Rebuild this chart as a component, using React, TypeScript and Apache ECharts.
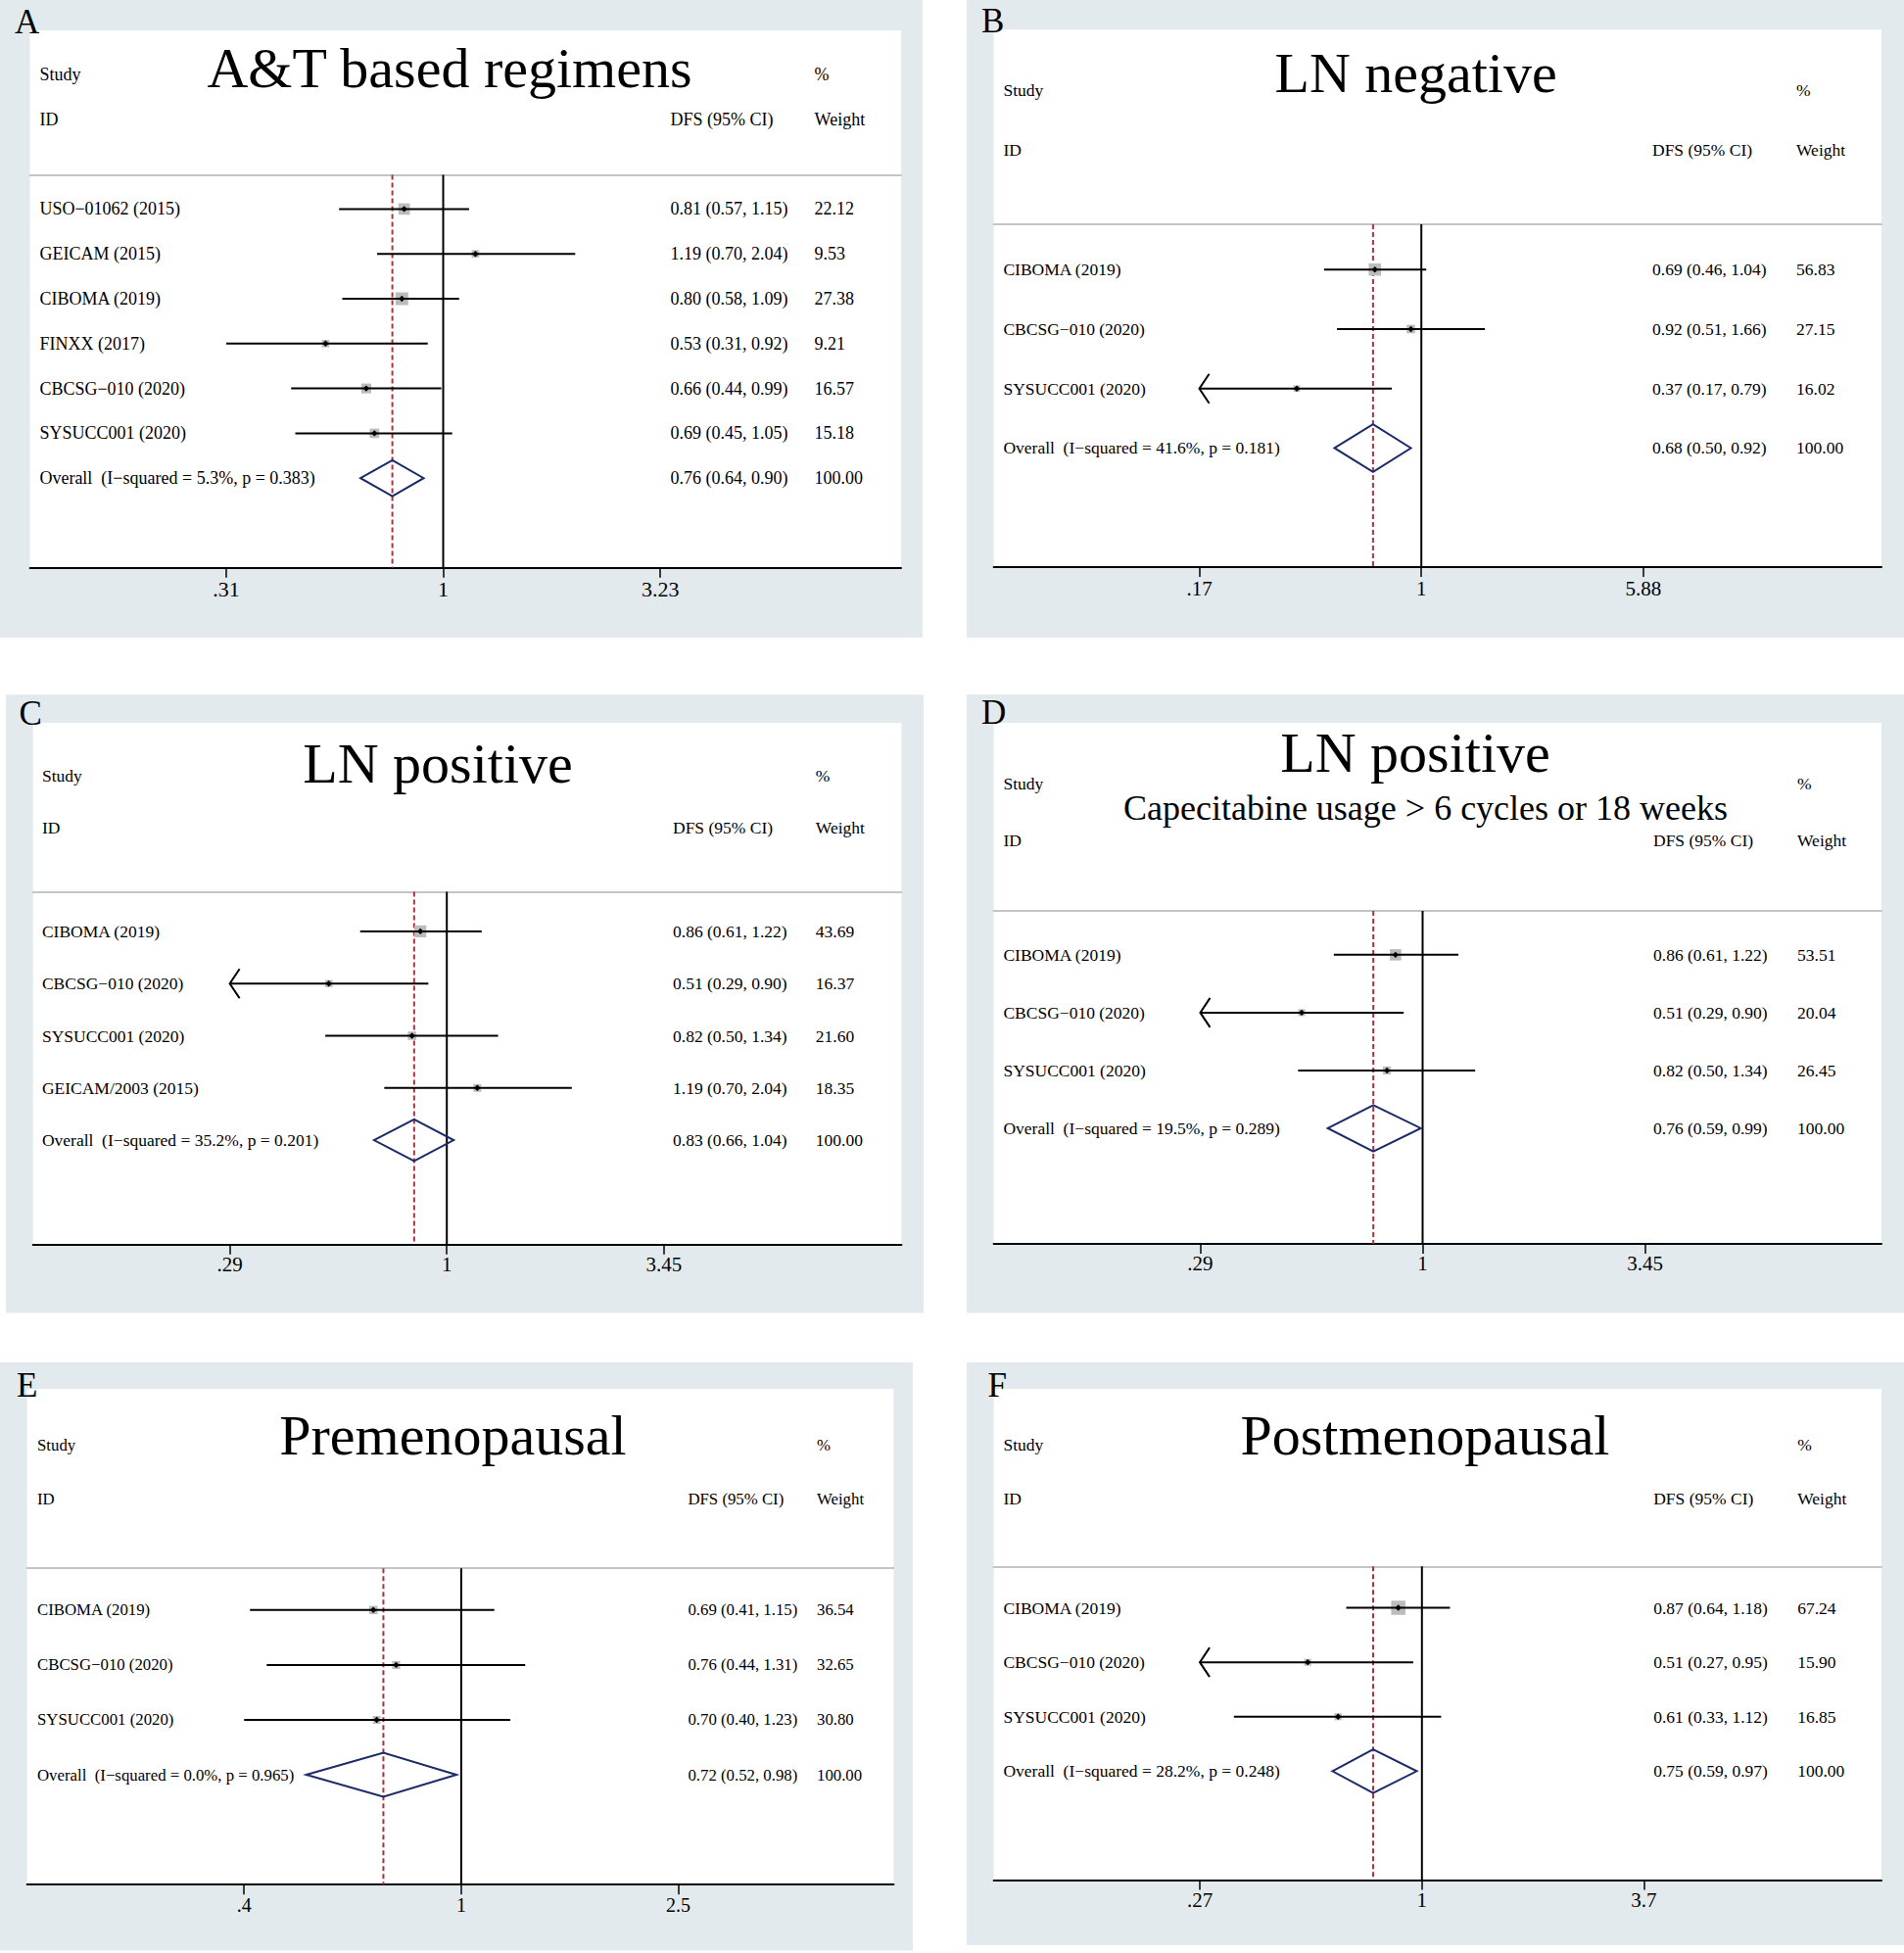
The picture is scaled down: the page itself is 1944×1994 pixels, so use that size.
import React, { useEffect, useRef } from "react";
import * as echarts from "echarts";

const SERIF = '"Liberation Serif", "Times New Roman", Times, serif';
const BG = "#e3eaee";
const RED = "#a8343c";
const NAVY = "#1b2a68";
const BOXGRAY = "#bcbcbc";

// ---------------- Panel A ----------------
const A_TITLE = "A&T based regimens";
const A_STUDIES = ["USO−01062 (2015)", "GEICAM (2015)", "CIBOMA (2019)", "FINXX (2017)", "CBCSG−010 (2020)", "SYSUCC001 (2020)"];
const A_DFS = [0.81, 1.19, 0.8, 0.53, 0.66, 0.69];
const A_LOW = [0.57, 0.7, 0.58, 0.31, 0.44, 0.45];
const A_HIGH = [1.15, 2.04, 1.09, 0.92, 0.99, 1.05];
const A_WEIGHT = [22.12, 9.53, 27.38, 9.21, 16.57, 15.18];
const A_ARROW = [false, false, false, false, false, false];
const A_OVERALL = [0.76, 0.64, 0.9];
const A_HET = ["5.3%", "0.383"];
const A_TICKS = [0.31, 1, 3.23];
const A_TICK_LABELS = [".31", "1", "3.23"];

// ---------------- Panel B ----------------
const B_TITLE = "LN negative";
const B_STUDIES = ["CIBOMA (2019)", "CBCSG−010 (2020)", "SYSUCC001 (2020)"];
const B_DFS = [0.69, 0.92, 0.37];
const B_LOW = [0.46, 0.51, 0.17];
const B_HIGH = [1.04, 1.66, 0.79];
const B_WEIGHT = [56.83, 27.15, 16.02];
const B_ARROW = [false, false, true];
const B_OVERALL = [0.68, 0.5, 0.92];
const B_HET = ["41.6%", "0.181"];
const B_TICKS = [0.17, 1, 5.88];
const B_TICK_LABELS = [".17", "1", "5.88"];

// ---------------- Panel C ----------------
const C_TITLE = "LN positive";
const C_STUDIES = ["CIBOMA (2019)", "CBCSG−010 (2020)", "SYSUCC001 (2020)", "GEICAM/2003 (2015)"];
const C_DFS = [0.86, 0.51, 0.82, 1.19];
const C_LOW = [0.61, 0.29, 0.5, 0.7];
const C_HIGH = [1.22, 0.9, 1.34, 2.04];
const C_WEIGHT = [43.69, 16.37, 21.6, 18.35];
const C_ARROW = [false, true, false, false];
const C_OVERALL = [0.83, 0.66, 1.04];
const C_HET = ["35.2%", "0.201"];
const C_TICKS = [0.29, 1, 3.45];
const C_TICK_LABELS = [".29", "1", "3.45"];

// ---------------- Panel D ----------------
const D_TITLE = "LN positive";
const D_SUBTITLE = "Capecitabine usage > 6 cycles or 18 weeks";
const D_STUDIES = ["CIBOMA (2019)", "CBCSG−010 (2020)", "SYSUCC001 (2020)"];
const D_DFS = [0.86, 0.51, 0.82];
const D_LOW = [0.61, 0.29, 0.5];
const D_HIGH = [1.22, 0.9, 1.34];
const D_WEIGHT = [53.51, 20.04, 26.45];
const D_ARROW = [false, true, false];
const D_OVERALL = [0.76, 0.59, 0.99];
const D_HET = ["19.5%", "0.289"];
const D_TICKS = [0.29, 1, 3.45];
const D_TICK_LABELS = [".29", "1", "3.45"];

// ---------------- Panel E ----------------
const E_TITLE = "Premenopausal";
const E_STUDIES = ["CIBOMA (2019)", "CBCSG−010 (2020)", "SYSUCC001 (2020)"];
const E_DFS = [0.69, 0.76, 0.7];
const E_LOW = [0.41, 0.44, 0.4];
const E_HIGH = [1.15, 1.31, 1.23];
const E_WEIGHT = [36.54, 32.65, 30.8];
const E_ARROW = [false, false, false];
const E_OVERALL = [0.72, 0.52, 0.98];
const E_HET = ["0.0%", "0.965"];
const E_TICKS = [0.4, 1, 2.5];
const E_TICK_LABELS = [".4", "1", "2.5"];

// ---------------- Panel F ----------------
const F_TITLE = "Postmenopausal";
const F_STUDIES = ["CIBOMA (2019)", "CBCSG−010 (2020)", "SYSUCC001 (2020)"];
const F_DFS = [0.87, 0.51, 0.61];
const F_LOW = [0.64, 0.27, 0.33];
const F_HIGH = [1.18, 0.95, 1.12];
const F_WEIGHT = [67.24, 15.9, 16.85];
const F_ARROW = [false, true, false];
const F_OVERALL = [0.75, 0.59, 0.97];
const F_HET = ["28.2%", "0.248"];
const F_TICKS = [0.27, 1, 3.7];
const F_TICK_LABELS = [".27", "1", "3.7"];

// ---------------- Layout (pixels) ----------------
const LAYOUT_A = { bg: [0, 0, 942, 651], letterPos: [15, 22.4], plot: [30.6, 31, 920, 579.8], sepY: 178.6, oneX: 452.5, pxPerLn: 189.1, title: [459, 89.5], studyY: 76, idY: 122, labelX: 40.4, ciX: 684.6, wX: 831.6, textSize: 18, tickSize: 22, tickMargin: 11, boxMax: 13 };
const LAYOUT_B = { bg: [987, 0, 1944, 651], letterPos: [1002, 21.7], plot: [1014.6, 30.3, 1921, 579], sepY: 229, oneX: 1451.2, pxPerLn: 127.9, title: [1445.6, 94.5], studyY: 91.6, idY: 153.4, labelX: 1024.4, ciX: 1687, wX: 1834, textSize: 17.5, tickSize: 21, tickMargin: 11, boxMax: 12.5 };
const LAYOUT_C = { bg: [6, 709.3, 943, 1340.6], letterPos: [19.6, 728], plot: [33.7, 737.9, 920.4, 1270.7], sepY: 910.4, oneX: 456.2, pxPerLn: 179.0, title: [447, 799.7], studyY: 791.8, idY: 845.2, labelX: 42.9, ciX: 687, wX: 832.8, textSize: 17.5, tickSize: 21, tickMargin: 10, boxMax: 12.2 };
const LAYOUT_D = { bg: [987, 709, 1944, 1340.5], letterPos: [1002, 727.5], plot: [1014.6, 738.1, 1921, 1270], sepY: 930, oneX: 1452.5, pxPerLn: 183.4, title: [1445, 788.3], subtitle: [1455.5, 836.8], studyY: 799.5, idY: 857.5, labelX: 1024.4, ciX: 1688, wX: 1835, textSize: 17.5, tickSize: 21, tickMargin: 9.5, boxMax: 11.6 };
const LAYOUT_E = { bg: [0, 1391, 932, 1991.6], letterPos: [17, 1414.3], plot: [27.6, 1418, 912.4, 1924.2], sepY: 1601.2, oneX: 470.9, pxPerLn: 241.9, title: [462.4, 1485.7], studyY: 1475, idY: 1530.7, labelX: 38, ciX: 702.4, wX: 834, textSize: 16.8, tickSize: 20, tickMargin: 10.5, boxMax: 8.6 };
const LAYOUT_F = { bg: [987, 1391, 1944, 1986], letterPos: [1008.5, 1414.1], plot: [1014.6, 1418, 1921, 1919.5], sepY: 1599.3, oneX: 1451.8, pxPerLn: 173.2, title: [1455, 1485.7], studyY: 1474.8, idY: 1530, labelX: 1024.4, ciX: 1688.2, wX: 1835.2, textSize: 17.5, tickSize: 21, tickMargin: 9.5, boxMax: 14.5 };

const PANELS: any[] = [
  { letter: "A", title: A_TITLE, studies: A_STUDIES, dfs: A_DFS, low: A_LOW, high: A_HIGH, weight: A_WEIGHT, arrow: A_ARROW, overall: A_OVERALL, het: A_HET, ticks: A_TICKS, tickLabels: A_TICK_LABELS, L: LAYOUT_A },
  { letter: "B", title: B_TITLE, studies: B_STUDIES, dfs: B_DFS, low: B_LOW, high: B_HIGH, weight: B_WEIGHT, arrow: B_ARROW, overall: B_OVERALL, het: B_HET, ticks: B_TICKS, tickLabels: B_TICK_LABELS, L: LAYOUT_B },
  { letter: "C", title: C_TITLE, studies: C_STUDIES, dfs: C_DFS, low: C_LOW, high: C_HIGH, weight: C_WEIGHT, arrow: C_ARROW, overall: C_OVERALL, het: C_HET, ticks: C_TICKS, tickLabels: C_TICK_LABELS, L: LAYOUT_C },
  { letter: "D", title: D_TITLE, subtitle: D_SUBTITLE, studies: D_STUDIES, dfs: D_DFS, low: D_LOW, high: D_HIGH, weight: D_WEIGHT, arrow: D_ARROW, overall: D_OVERALL, het: D_HET, ticks: D_TICKS, tickLabels: D_TICK_LABELS, L: LAYOUT_D },
  { letter: "E", title: E_TITLE, studies: E_STUDIES, dfs: E_DFS, low: E_LOW, high: E_HIGH, weight: E_WEIGHT, arrow: E_ARROW, overall: E_OVERALL, het: E_HET, ticks: E_TICKS, tickLabels: E_TICK_LABELS, L: LAYOUT_E },
  { letter: "F", title: F_TITLE, studies: F_STUDIES, dfs: F_DFS, low: F_LOW, high: F_HIGH, weight: F_WEIGHT, arrow: F_ARROW, overall: F_OVERALL, het: F_HET, ticks: F_TICKS, tickLabels: F_TICK_LABELS, L: LAYOUT_F },
];

function textEl(x: number, y: number, s: string, size: number, align = "left", extra: any = {}) {
  return {
    type: "text",
    x,
    y,
    silent: true,
    z: 10,
    ...extra,
    style: {
      text: s,
      fill: "#000",
      fontSize: size,
      fontFamily: SERIF,
      align,
      verticalAlign: "middle",
      textAlign: align,
      textVerticalAlign: "middle",
    },
  };
}

function fmtCI(a: number, b: number, c: number) {
  return `${a.toFixed(2)} (${b.toFixed(2)}, ${c.toFixed(2)})`;
}

function buildOption() {
  const grid: any[] = [];
  const xAxis: any[] = [];
  const yAxis: any[] = [];
  const series: any[] = [];
  const graphic: any[] = [];

  PANELS.forEach((P, i) => {
    const L = P.L;
    const [px0, py0, px1, axisY] = L.plot;
    const xMin = (px0 - L.oneX) / L.pxPerLn;
    const xMax = (px1 - L.oneX) / L.pxPerLn;
    const n = P.studies.length + 1;
    const yMin = 0.24;
    const yMax = n + 2;

    // backgrounds & texts
    graphic.push({ type: "rect", silent: true, z: -10, shape: { x: L.bg[0], y: L.bg[1], width: L.bg[2] - L.bg[0], height: L.bg[3] - L.bg[1] }, style: { fill: BG } });
    graphic.push({ type: "rect", silent: true, z: -9, shape: { x: px0, y: py0, width: px1 - px0, height: axisY - py0 }, style: { fill: "#ffffff" } });
    graphic.push(textEl(L.letterPos[0], L.letterPos[1], P.letter, 35));
    graphic.push(textEl(L.title[0], L.title[1] - 0.34 * 58, P.title, 58, "center"));
    if (P.subtitle) graphic.push(textEl(L.subtitle[0], L.subtitle[1] - 0.34 * 36, P.subtitle, 36, "center"));
    graphic.push(textEl(L.labelX, L.studyY, "Study", L.textSize));
    graphic.push(textEl(L.wX, L.studyY, "%", L.textSize));
    graphic.push(textEl(L.labelX, L.idY, "ID", L.textSize));
    graphic.push(textEl(L.ciX, L.idY, "DFS (95% CI)", L.textSize));
    graphic.push(textEl(L.wX, L.idY, "Weight", L.textSize));

    grid.push({ left: px0, top: L.sepY, width: px1 - px0, height: axisY - L.sepY, containLabel: false, outerBoundsMode: "none" });

    const tickVals = P.ticks.map((t: number) => Math.log(t));
    xAxis.push({
      type: "value",
      gridIndex: i,
      position: "bottom",
      min: xMin,
      max: xMax,
      axisLine: { onZero: false, lineStyle: { color: "#000", width: 2 } },
      axisTick: { customValues: tickVals, length: 10, lineStyle: { color: "#000", width: 1.5 } },
      axisLabel: {
        customValues: tickVals,
        formatter: (v: number) => {
          const k = tickVals.findIndex((t: number) => Math.abs(t - v) < 1e-6);
          return k >= 0 ? P.tickLabels[k] : "";
        },
        color: "#000",
        fontFamily: SERIF,
        fontSize: L.tickSize,
        margin: L.tickMargin,
      },
      splitLine: { show: false },
    });
    xAxis.push({
      type: "value",
      gridIndex: i,
      position: "top",
      min: xMin,
      max: xMax,
      axisLine: { onZero: false, lineStyle: { color: "#c4c4c4", width: 2 } },
      axisTick: { show: false },
      axisLabel: { show: false },
      splitLine: { show: false },
    });
    yAxis.push({ type: "value", gridIndex: i, inverse: true, min: yMin, max: yMax, show: false });

    const xIdx = 2 * i;
    const lnOv = Math.log(P.overall[0]);

    series.push({
      type: "line",
      xAxisIndex: xIdx,
      yAxisIndex: i,
      data: [[lnOv, yMin], [lnOv, yMax]],
      symbol: "none",
      silent: true,
      lineStyle: { color: RED, width: 2, type: [5, 3] },
      z: 2,
    });
    series.push({
      type: "line",
      xAxisIndex: xIdx,
      yAxisIndex: i,
      data: [[0, yMin], [0, yMax]],
      symbol: "none",
      silent: true,
      lineStyle: { color: "#000", width: 2 },
      z: 2,
    });

    const wMax = Math.max(...P.weight);
    series.push({
      type: "custom",
      xAxisIndex: xIdx,
      yAxisIndex: i,
      silent: true,
      clip: false,
      z: 3,
      encode: { x: [1, 2, 3], y: 0 },
      data: P.studies.map((_: string, k: number) => [k + 1, Math.log(P.dfs[k]), Math.log(P.low[k]), Math.log(P.high[k]), P.weight[k]]),
      renderItem: (params: any, api: any) => {
        const k = params.dataIndex;
        const row = api.value(0);
        const c = api.coord([api.value(1), row]);
        const xHr = c[0];
        const y = c[1];
        const xLo = api.coord([api.value(2), row])[0];
        const xHi = api.coord([api.value(3), row])[0];
        const side = L.boxMax * Math.sqrt(api.value(4) / wMax);
        const m = 3.2;
        const children: any[] = [
          textEl(L.labelX, y, P.studies[k], L.textSize),
          { type: "rect", shape: { x: xHr - side / 2, y: y - side / 2, width: side, height: side }, style: { fill: BOXGRAY } },
          { type: "line", shape: { x1: xLo, y1: y, x2: xHi, y2: y }, style: { stroke: "#000", lineWidth: 2 } },
          { type: "polygon", shape: { points: [[xHr - m, y], [xHr, y - m], [xHr + m, y], [xHr, y + m]] }, style: { fill: "#000" } },
          textEl(L.ciX, y, fmtCI(P.dfs[k], P.low[k], P.high[k]), L.textSize),
          textEl(L.wX, y, P.weight[k].toFixed(2), L.textSize),
        ];
        if (P.arrow[k]) {
          children.push({
            type: "polyline",
            shape: { points: [[xLo + 10, y - 15], [xLo, y], [xLo + 10, y + 15]] },
            style: { stroke: "#000", lineWidth: 2, fill: "none" },
          });
        }
        return { type: "group", children };
      },
    });

    series.push({
      type: "custom",
      xAxisIndex: xIdx,
      yAxisIndex: i,
      silent: true,
      clip: false,
      z: 3,
      encode: { x: [1, 2, 3], y: 0 },
      data: [[n, lnOv, Math.log(P.overall[1]), Math.log(P.overall[2])]],
      renderItem: (params: any, api: any) => {
        const row = api.value(0);
        const c = api.coord([api.value(1), row]);
        const xm = c[0];
        const y = c[1];
        const xl = api.coord([api.value(2), row])[0];
        const xh = api.coord([api.value(3), row])[0];
        const h = 0.4 * Math.abs(api.size([0, 1])[1]);
        return {
          type: "group",
          children: [
            { type: "polygon", shape: { points: [[xl, y], [xm, y - h], [xh, y], [xm, y + h]] }, style: { fill: "none", stroke: NAVY, lineWidth: 2 } },
            textEl(L.labelX, y, `Overall\u00a0\u00a0(I−squared = ${P.het[0]}, p = ${P.het[1]})`, L.textSize),
            textEl(L.ciX, y, fmtCI(P.overall[0], P.overall[1], P.overall[2]), L.textSize),
            textEl(L.wX, y, (100).toFixed(2), L.textSize),
          ],
        };
      },
    });
  });

  return {
    animation: false,
    backgroundColor: "#ffffff",
    grid,
    xAxis,
    yAxis,
    series,
    graphic: { elements: graphic },
  };
}

export default function App() {
  const ref = useRef<HTMLDivElement>(null);
  useEffect(() => {
    if (!ref.current) return;
    const chart = echarts.init(ref.current, undefined, { renderer: "svg" });
    chart.setOption(buildOption() as any);
    return () => chart.dispose();
  }, []);
  return <div ref={ref} style={{ position: "absolute", left: 0, top: 0, width: 1944, height: 1994 }} />;
}
